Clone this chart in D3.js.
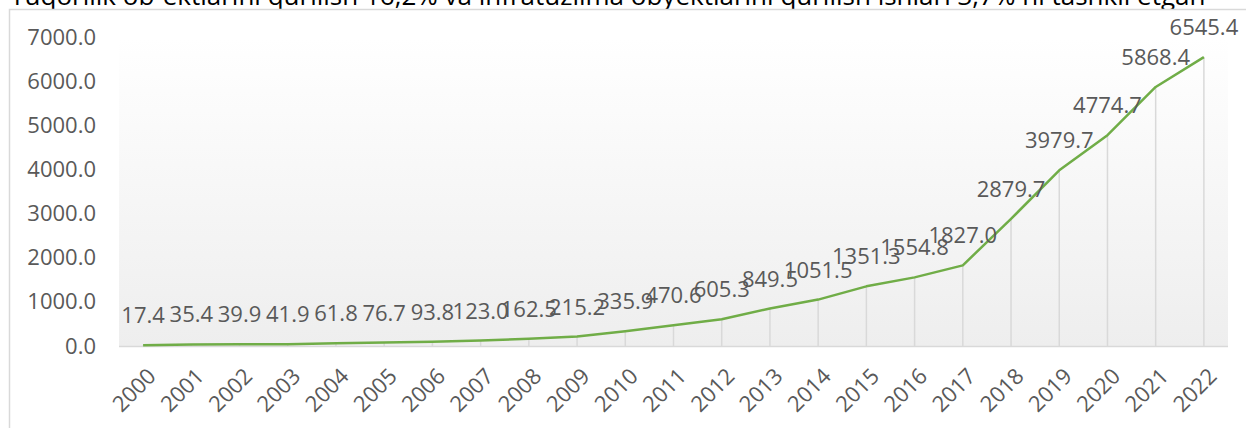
<!DOCTYPE html>
<html>
<head>
<meta charset="utf-8">
<script src="https://cdn.jsdelivr.net/npm/d3@7"></script>
<style>
  body { margin: 0; background: #fff; }
  svg { display: block; font-family: "Open Sans", sans-serif; }
</style>
</head>
<body>
<svg id="chart" width="1246" height="428"></svg>
<script>
// chart data
var years = ['2000','2001','2002','2003','2004','2005','2006','2007','2008','2009','2010',
  '2011','2012','2013','2014','2015','2016','2017','2018','2019','2020','2021','2022'];
var values = [17.4, 35.4, 39.9, 41.9, 61.8, 76.7, 93.8, 123.0, 162.5, 215.2, 335.9,
  470.6, 605.3, 849.5, 1051.5, 1351.3, 1554.8, 1827.0, 2879.7, 3979.7, 4774.7, 5868.4, 6545.4];
var yTicks = [0, 1000, 2000, 3000, 4000, 5000, 6000, 7000];
var topLine = 'Yuqorilik ob-ektlarini qurilish 16,2% va infratuzilma obyektlarini qurilish ishlari 3,7% ni tashkil etgan';

var data = years.map(function(y, i) { return {year: y, value: values[i]}; });

var svg = d3.select('#chart');

// cut-off text line from the page above the chart
svg.append('text')
  .attr('x', 10)
  .attr('y', 5)
  .style('font-size', '26px')
  .style('fill', '#000')
  .text(topLine);

// chart border
svg.append('rect')
  .attr('x', 9.5).attr('y', 9.5)
  .attr('width', 1300).attr('height', 500)
  .attr('fill', '#fff')
  .attr('stroke', '#d9d9d9')
  .attr('stroke-width', 1.5);

var plotLeft = 119, plotRight = 1228, plotTop = 37, plotBottom = 346;

var x = d3.scalePoint().domain(years).range([plotLeft, plotRight]).padding(0.5);
var y = d3.scaleLinear().domain([0, 7000]).range([plotBottom, plotTop]);

// plot area gradient
var grad = svg.append('defs').append('linearGradient')
  .attr('id', 'plotbg').attr('x1', 0).attr('y1', 0).attr('x2', 0).attr('y2', 1);
grad.append('stop').attr('offset', '0%').attr('stop-color', '#ffffff');
grad.append('stop').attr('offset', '100%').attr('stop-color', '#eeeeee');

svg.append('rect')
  .attr('x', plotLeft).attr('y', plotTop)
  .attr('width', plotRight - plotLeft).attr('height', plotBottom - plotTop)
  .attr('fill', 'url(#plotbg)');

// drop lines
svg.selectAll('.drop')
  .data(data)
  .join('line')
  .attr('class', 'drop')
  .attr('x1', function(d) { return x(d.year); })
  .attr('x2', function(d) { return x(d.year); })
  .attr('y1', function(d) { return y(d.value); })
  .attr('y2', plotBottom)
  .attr('stroke', '#d9d9d9')
  .attr('stroke-width', 1.5);

// y axis
var yAxis = svg.append('g')
  .attr('transform', 'translate(' + plotLeft + ',0)')
  .call(d3.axisLeft(y).tickValues(yTicks).tickFormat(d3.format('.1f')).tickSize(0).tickPadding(23));
yAxis.select('.domain').remove();
yAxis.selectAll('text')
  .style('font-size', '22px')
  .style('fill', '#595959')
  .style('font-family', '"Open Sans", sans-serif');

// x axis
var xAxis = svg.append('g')
  .attr('transform', 'translate(0,' + plotBottom + ')')
  .call(d3.axisBottom(x).tickSize(0).tickPadding(0));
xAxis.select('.domain')
  .attr('stroke', '#d9d9d9')
  .attr('stroke-width', 1.5)
  .attr('d', 'M' + plotLeft + ',0.5H' + plotRight);
xAxis.selectAll('text')
  .style('font-size', '22px')
  .style('fill', '#595959')
  .style('font-family', '"Open Sans", sans-serif')
  .attr('text-anchor', 'end')
  .attr('y', null)
  .attr('transform', 'translate(2,20) rotate(-45)')
  .attr('dy', '0.75em');

// line
var line = d3.line()
  .x(function(d) { return x(d.year); })
  .y(function(d) { return y(d.value); });

svg.append('path')
  .datum(data)
  .attr('d', line)
  .attr('fill', 'none')
  .attr('stroke', '#70ad47')
  .attr('stroke-width', 2.5)
  .attr('stroke-linejoin', 'round');

// data labels
svg.selectAll('.lbl')
  .data(data)
  .join('text')
  .attr('class', 'lbl')
  .attr('x', function(d) { return x(d.year); })
  .attr('y', function(d) { return y(d.value) - 22; })
  .attr('text-anchor', 'middle')
  .style('font-size', '22px')
  .style('fill', '#595959')
  .text(function(d) { return d.value.toFixed(1); });
</script>
</body>
</html>
